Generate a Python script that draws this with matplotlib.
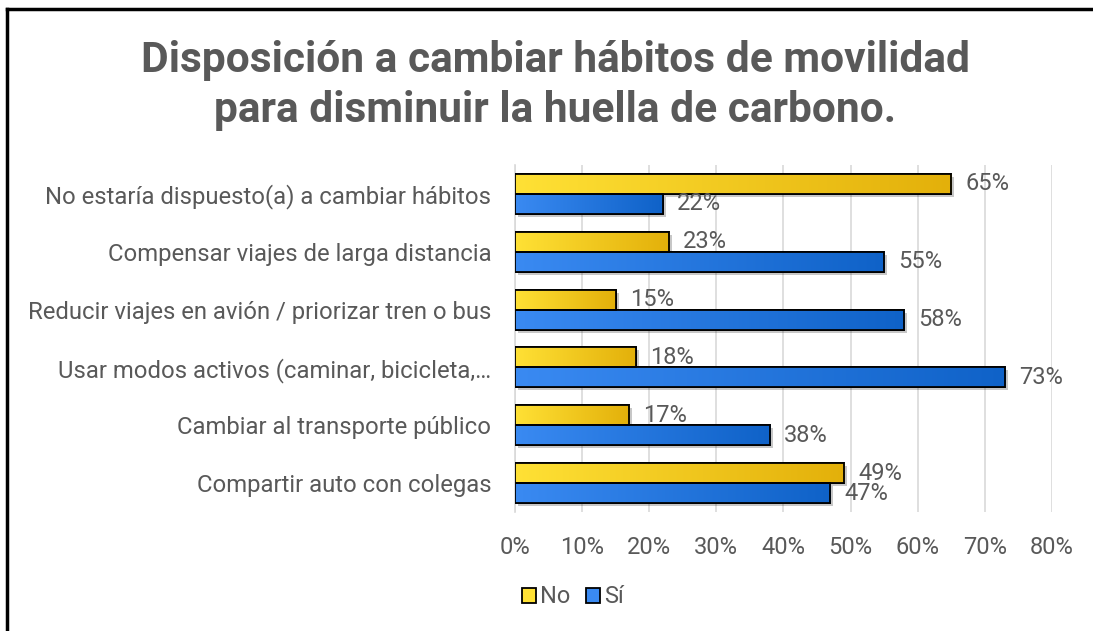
import matplotlib.pyplot as plt
import matplotlib.transforms as mtransforms
from matplotlib.patches import Rectangle, Patch
from matplotlib.colors import LinearSegmentedColormap
import numpy as np

plt.rcParams['font.family'] = ['Roboto', 'DejaVu Sans']

categories = [
    "No estaría dispuesto(a) a cambiar hábitos",
    "Compensar viajes de larga distancia",
    "Reducir viajes en avión / priorizar tren o bus",
    "Usar modos activos (caminar, bicicleta,…",
    "Cambiar al transporte público",
    "Compartir auto con colegas",
]
no_vals = [0.65, 0.23, 0.15, 0.18, 0.17, 0.49]
si_vals = [0.22, 0.55, 0.58, 0.73, 0.38, 0.47]
series = [("No", no_vals, "#FFE135", "#E3B00A"),
          ("Sí", si_vals, "#3A8AF2", "#0F62C8")]
ticks = np.arange(0, 0.81, 0.1)

grey = "#595959"
fig = plt.figure(figsize=(10.93, 6.31), dpi=100)
ax = fig.add_axes([0.471, 0.1886, 0.4915, 0.5499])

y = np.arange(len(categories))
h = 0.345
grad = np.linspace(0, 1, 256).reshape(1, -1)

for k, (name, vals, c0, c1) in enumerate(series):
    offs = -h / 2 if k == 0 else h / 2
    cmap = LinearSegmentedColormap.from_list(name, [c0, c1])
    bars = ax.barh(y + offs, vals, height=h, color=c0, edgecolor="black",
                   linewidth=1.3, zorder=3)
    shadow_tr = mtransforms.offset_copy(ax.transData, fig=fig, x=3, y=-3, units="dots")
    for b, v in zip(bars, vals):
        x0, y0 = b.get_x(), b.get_y()
        w, hh = b.get_width(), b.get_height()
        sh = Rectangle((x0, y0), w, hh, transform=shadow_tr, facecolor="black",
                       alpha=0.22, edgecolor="none", zorder=2)
        ax.add_patch(sh)
        im = ax.imshow(grad, cmap=cmap, aspect="auto", extent=(x0, x0 + w, y0, y0 + hh),
                       zorder=3.5, interpolation="bicubic")
        im.set_clip_path(b)
        edge = Rectangle((x0, y0), w, hh, facecolor="none", edgecolor="black",
                         linewidth=1.3, zorder=4)
        ax.add_patch(edge)
        ax.text(v + 0.021, b.get_y() + hh / 2, f"{v * 100:.0f}%", va="center",
                ha="left", fontsize=17, color=grey, zorder=5)

ax.set_xlim(0, 0.8)
ax.set_ylim(len(categories) - 0.5, -0.5)
ax.set_xticks(ticks)
ax.set_xticklabels([f"{t * 100:.0f}%" for t in ticks])
ax.set_yticks(y)
ax.set_yticklabels(categories)
ax.tick_params(axis="y", length=0, pad=17, labelsize=17.2, labelcolor=grey)
ax.tick_params(axis="x", length=0, pad=17, labelsize=17, labelcolor=grey)
ax.grid(axis="x", color="#D9D9D9", linewidth=1.2, zorder=0)
ax.set_axisbelow(True)
for s in ["top", "right", "bottom"]:
    ax.spines[s].set_visible(False)
ax.spines["left"].set_color("#D9D9D9")
ax.spines["left"].set_linewidth(1.2)

fig.text(0.508, 0.865, "Disposición a cambiar hábitos de movilidad\npara disminuir la huella de carbono.",
         ha="center", va="center", fontsize=30.6, fontweight="bold", color=grey,
         linespacing=1.27)

handles = [Patch(facecolor=c0, edgecolor="black", linewidth=1.3, label=name)
           for name, _, c0, _ in series]
fig.legend(handles=handles, loc="center left", bbox_to_anchor=(0.458, 0.054), ncol=2,
           frameon=False, fontsize=17, labelcolor=grey, handlelength=0.6,
           handleheight=0.6, handletextpad=0.15, columnspacing=0.7)

# frame lines along top and left
fig.add_artist(plt.Line2D([0.0064, 1.0], [0.986, 0.986], color="black", lw=2.5,
                          transform=fig.transFigure))
fig.add_artist(plt.Line2D([0.0064, 0.0064], [0.0, 0.986], color="black", lw=2.5,
                          transform=fig.transFigure))

fig.savefig("out.png", dpi=100)
